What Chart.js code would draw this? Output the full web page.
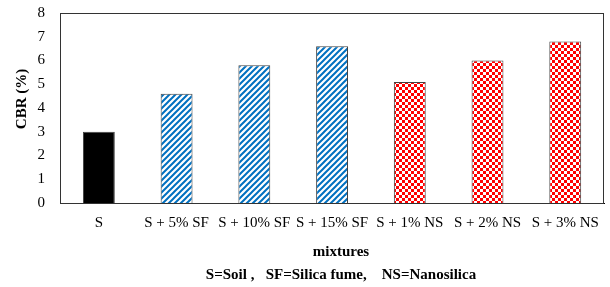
<!DOCTYPE html>
<html>
<head>
<meta charset="utf-8">
<script src="https://cdn.jsdelivr.net/npm/chart.js@4.4.0/dist/chart.umd.min.js"></script>
<style>
  html, body { margin: 0; padding: 0; background: #fff; }
  #wrap { width: 610px; height: 287px; }
</style>
</head>
<body>
<div id="wrap"><canvas id="cbr-chart" width="610" height="287"></canvas></div>
<script>
// CBR values
const mixtures = ['S', 'S + 5% SF', 'S + 10% SF', 'S + 15% SF', 'S + 1% NS', 'S + 2% NS', 'S + 3% NS'];
const cbrValues = [3.0, 4.6, 5.8, 6.6, 5.1, 6.0, 6.8];
const fillKinds = ['solid', 'stripe', 'stripe', 'stripe', 'check', 'check', 'check'];

const yTitle = 'CBR (%)';
const xTitle = 'mixtures';
const keyText = 'S=Soil ,   SF=Silica fume,    NS=Nanosilica';

const SERIF = '"Liberation Serif", "Times New Roman", serif';

const canvas = document.getElementById('cbr-chart');
const ctx = canvas.getContext('2d');

function stripePattern(color) {
  const t = document.createElement('canvas');
  t.width = 6; t.height = 6;
  const g = t.getContext('2d');
  g.fillStyle = '#fff';
  g.fillRect(0, 0, 6, 6);
  g.strokeStyle = color;
  g.lineWidth = 2;
  g.beginPath();
  g.moveTo(-1, 7); g.lineTo(7, -1);
  g.moveTo(-4, 4); g.lineTo(4, -4);
  g.moveTo(2, 10); g.lineTo(10, 2);
  g.stroke();
  return ctx.createPattern(t, 'repeat');
}

function checkPattern(color) {
  const t = document.createElement('canvas');
  t.width = 6; t.height = 6;
  const g = t.getContext('2d');
  g.fillStyle = '#fff';
  g.fillRect(0, 0, 6, 6);
  g.fillStyle = color;
  g.fillRect(0, 0, 3, 3);
  g.fillRect(3, 3, 3, 3);
  return ctx.createPattern(t, 'repeat');
}

const fills = {
  solid: '#000000',
  stripe: stripePattern('#0070C0'),
  check: checkPattern('#FF0000')
};

// box round the plot area
const frame = {
  id: 'frame',
  afterDraw(chart) {
    const a = chart.chartArea;
    const c = chart.ctx;
    c.save();
    c.strokeStyle = '#333';
    c.lineWidth = 1;
    c.strokeRect(Math.round(a.left) + 0.5, Math.round(a.top) + 0.5,
                 Math.round(a.right - a.left) - 1, Math.round(a.bottom - a.top));
    c.restore();
  }
};

// axis titles and the key line under the chart
const captions = {
  id: 'captions',
  afterDraw(chart) {
    const c = chart.ctx;
    c.save();
    c.fillStyle = '#000';
    c.textAlign = 'center';
    c.textBaseline = 'middle';
    c.font = 'bold 15px ' + SERIF;
    c.fillText(xTitle, 341, 252);
    c.fillText(keyText, 341, 275);
    c.translate(22, 99);
    c.rotate(-Math.PI / 2);
    c.fillText(yTitle, 0, 0);
    c.restore();
  }
};

new Chart(ctx, {
  type: 'bar',
  data: {
    labels: mixtures,
    datasets: [{
      data: cbrValues,
      backgroundColor: fillKinds.map(k => fills[k]),
      borderColor: '#404040',
      borderWidth: 1,
      barPercentage: 0.41,
      categoryPercentage: 1
    }]
  },
  options: {
    responsive: false,
    animation: false,
    layout: { padding: { top: 13, right: 2, bottom: 0, left: 0 } },
    plugins: {
      legend: { display: false },
      tooltip: { enabled: false }
    },
    scales: {
      x: {
        grid: { display: false, drawTicks: false },
        border: { display: true, color: '#000', width: 1 },
        ticks: { color: '#000', font: { family: SERIF, size: 15 }, padding: 11, maxRotation: 0, autoSkip: false },
        afterFit(scale) { scale.height = 84; }
      },
      y: {
        min: 0,
        max: 8,
        grid: { display: false, drawTicks: false },
        border: { display: true, color: '#000', width: 1 },
        ticks: { stepSize: 1, color: '#000', font: { family: SERIF, size: 15 }, padding: 15 },
        afterFit(scale) {
          scale.width = 60;
          // the tick padding would otherwise push the plot top down
          scale.paddingTop = 0;
          scale.paddingBottom = 0;
        }
      }
    }
  },
  plugins: [frame, captions]
});
</script>
</body>
</html>
